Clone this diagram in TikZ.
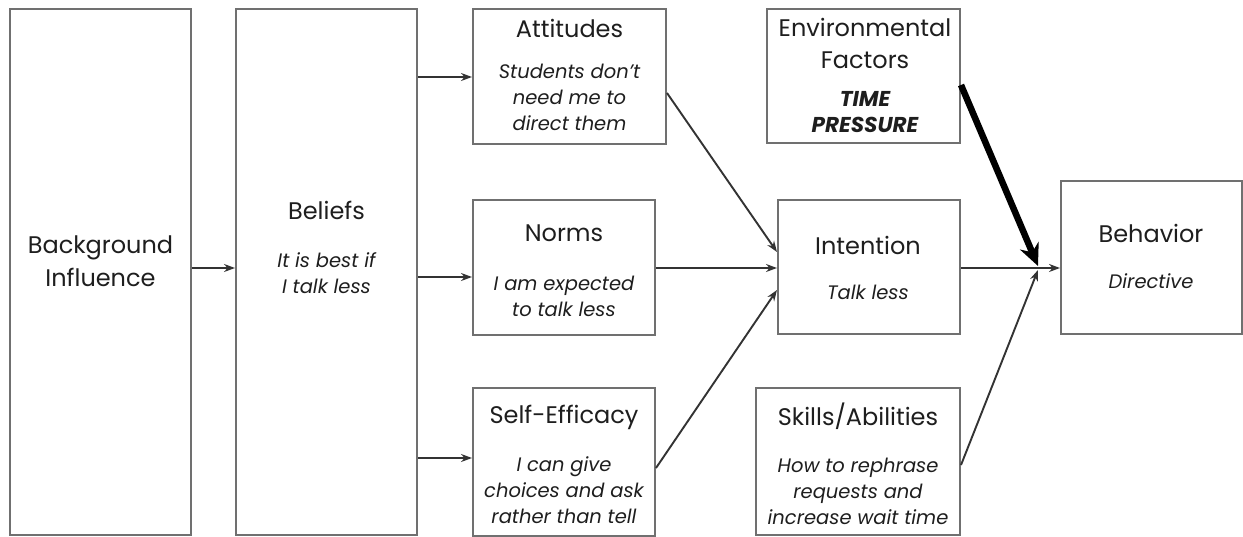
\documentclass[tikz,border=0pt]{standalone}
\usepackage{fontspec}
\setmainfont{Poppins}
\usetikzlibrary{arrows.meta,calc}

\definecolor{boxgray}{HTML}{707070}
\definecolor{arrowgray}{HTML}{333333}
\definecolor{inkblack}{HTML}{1E1E1E}

\tikzset{
  box/.style={draw=boxgray, line width=2pt, fill=white, inner sep=0pt,
              minimum width=#1},
  title/.style={text=inkblack, inner sep=0pt, align=center,
                font=\fontsize{24}{32.5}\selectfont},
  body/.style={text=inkblack, inner sep=0pt, align=center,
               font=\fontsize{19.5}{26}\selectfont\itshape},
  arr/.style={draw=arrowgray, line width=1.9pt,
              -{Stealth[length=11pt,width=8pt]}},
  bigarr/.style={draw=black, line width=6.5pt,
                 -{Stealth[length=22pt,width=20pt]}}
}

\begin{document}
\begin{tikzpicture}[x=1pt,y=-1pt]
  \useasboundingbox (0,0) rectangle (1243,537);

  % boxes
  \node[box=181pt, minimum height=526pt] (bg)  at (100.5,272) {};
  \node[box=181pt, minimum height=526pt] (bel) at (326.5,272) {};
  \node[box=193pt, minimum height=135pt] (att) at (569.5,76.5) {};
  \node[box=182pt, minimum height=135pt] (nor) at (564,267.5) {};
  \node[box=182pt, minimum height=148pt] (se)  at (564,462) {};
  \node[box=193pt, minimum height=134pt] (env) at (863.5,76) {};
  \node[box=182pt, minimum height=134pt] (int) at (869,267) {};
  \node[box=204pt, minimum height=147pt] (sk)  at (858,461.5) {};
  \node[box=181pt, minimum height=153pt] (beh) at (1151.5,257.5) {};

  % texts
  \node[title] (bgT) at (100.5,261) {Background\\Influence};
  \node[title] (belT) at (326.5,210) {Beliefs};
  \node[body]  (belB) at (326.5,273) {It is best if\\I talk less};
  \node[title] (attT) at (569.5,28) {Attitudes};
  \node[body]  (attB) at (569.5,97) {Students don’t\\need me to\\direct them};
  \node[title] (norT) at (564,233) {Norms};
  \node[body]  (norB) at (564,296) {I am expected\\to talk less};
  \node[title] (seT) at (564,417) {Self-Efficacy};
  \node[body]  (seB) at (564,490) {I can give\\choices and ask\\rather than tell};
  \node[title] (envT) at (865,43.5) {Environmental\\Factors};
  \node[body, font=\fontsize{21.5}{26}\selectfont\bfseries\itshape]
        (envB) at (865,112) {TIME\\PRESSURE};
  \node[title] (intT) at (868,245) {Intention};
  \node[body]  (intB) at (868,292) {Talk less};
  \node[title] (behT) at (1151,233) {Behavior};
  \node[body]  (behB) at (1151,281) {Directive};
  \node[title] (skT) at (858,416) {Skills/Abilities};
  \node[body]  (skB) at (858,491) {How to rephrase\\requests and\\increase wait time};

  % meeting point of the paths into behavior
  \coordinate (m) at (1038,268);

  % connectors
  \draw[arr] (bg.east |- 0,268) -- (bel.west |- 0,268);
  \draw[arr] (bel.east |- 0,77)  -- (att.west |- 0,77);
  \draw[arr] (bel.east |- 0,277) -- (nor.west |- 0,277);
  \draw[arr] (bel.east |- 0,458) -- (se.west |- 0,458);
  \draw[arr] (att.east |- 0,93)  -- (int.west |- 0,252);
  \draw[arr] (nor.east |- 0,268) -- (int.west |- 0,268);
  \draw[arr] (se.east |- 0,468)  -- (int.west |- 0,290);
  \draw[arr] (int.east |- 0,268) -- (beh.west |- 0,268);
  \draw[arr] (sk.east |- 0,465)  -- ($(m)+(0,2)$);
  \draw[bigarr] (env.east |- 0,85) -- ($(m)+(0,-2)$);
\end{tikzpicture}
\end{document}
